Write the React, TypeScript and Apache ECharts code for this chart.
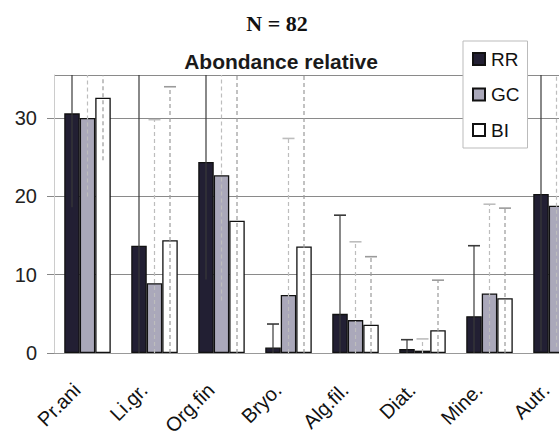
import React, { useEffect, useRef } from "react";
import * as echarts from "echarts";

const categories = ["Pr.ani", "Li.gr.", "Org.fin", "Bryo.", "Alg.fil.", "Diat.", "Mine.", "Autr."];
const seriesNames = ["RR", "GC", "BI"];
const rrValues = [30.6, 13.7, 24.4, 0.7, 5.0, 0.5, 4.7, 20.3];
const gcValues = [30.0, 8.9, 22.7, 7.4, 4.2, 0.3, 7.6, 18.8];
const biValues = [32.6, 14.4, 16.9, 13.6, 3.6, 2.9, 7.0, 17.5];
// upper error (standard deviation) — values above the axis top are clipped in the picture
const rrErrors = [12.0, 25.0, 15.0, 3.0, 12.6, 1.2, 9.0, 20.0];
const gcErrors = [10.0, 20.9, 16.0, 20.0, 10.0, 1.5, 11.4, 18.0];
const biErrors = [8.0, 19.6, 20.0, 24.0, 8.7, 6.4, 11.5, 18.0];
const yTicks = [0, 10, 20, 30];

const Y_MAX = 35.5;
const BAR_W = 15.5;
const FONT = "'Liberation Sans', Arial, sans-serif";

function errorSeries(values: number[], errors: number[], slot: number, color: string, dashed: boolean) {
  return {
    type: "custom",
    silent: true,
    z: 3,
    renderItem: (params: any, api: any) => {
      const i = api.value(0);
      const v = api.value(1);
      const e = api.value(2);
      const hi = Math.min(v + e, Y_MAX);
      const lo = Math.max(v - e, 0);
      const pHi = api.coord([i, hi]);
      const pLo = api.coord([i, lo]);
      const x = pHi[0] + (slot - 1) * BAR_W;
      const style = { stroke: color, lineWidth: 1.2, lineDash: dashed ? [4, 3] : null };
      const children: any[] = [
        { type: "line", shape: { x1: x, y1: pLo[1], x2: x, y2: pHi[1] }, style },
      ];
      if (v + e <= Y_MAX) {
        children.push({ type: "line", shape: { x1: x - 6, y1: pHi[1], x2: x + 6, y2: pHi[1] }, style: { stroke: color, lineWidth: 1.6 } });
      }
      return { type: "group", children };
    },
    data: categories.map((_, i) => [i, values[i], errors[i]]),
  };
}

export default function App() {
  const ref = useRef<HTMLDivElement>(null);
  useEffect(() => {
    if (!ref.current) return;
    const chart = echarts.init(ref.current, null, { renderer: "svg" });
    const barStyle = (color: string) => ({ color, borderColor: "#111", borderWidth: 1.3 });
    chart.setOption({
      animation: false,
      backgroundColor: "#fff",
      textStyle: { fontFamily: FONT },
      grid: { left: 54, right: 0, top: 75, bottom: 83, containLabel: false, outerBoundsMode: "none" },
      graphic: [
        { type: "text", x: 277, y: 23, style: { text: "N = 82", font: "bold 22px 'Liberation Serif', 'Times New Roman', serif", fill: "#111", align: "center", verticalAlign: "middle" } },
        { type: "text", x: 281, y: 61, style: { text: "Abondance relative", font: `bold 21px ${FONT}`, fill: "#1a1a1a", align: "center", verticalAlign: "middle" } },
      ],
      legend: {
        data: seriesNames,
        orient: "vertical",
        left: 463,
        top: 41,
        padding: [8, 8, 8, 9],
        itemWidth: 12,
        itemHeight: 12,
        itemGap: 15.5,
        backgroundColor: "#fff",
        borderColor: "#bbb",
        borderWidth: 1,
        icon: "rect",
        textStyle: { fontSize: 19, color: "#111", fontFamily: FONT, lineHeight: 20, padding: [0, 0, 0, 1] },
      },
      xAxis: {
        type: "category",
        data: categories,
        axisLine: { lineStyle: { color: "#999" } },
        axisTick: { show: false },
        axisLabel: { interval: 0, rotate: 45, fontSize: 20, color: "#111", margin: 23, padding: [0, 15, 0, 0], fontFamily: FONT },
      },
      yAxis: {
        type: "value",
        min: 0,
        max: Y_MAX,
        interval: 10,
        axisLine: { show: true, lineStyle: { color: "#ccc" } },
        axisTick: { show: true, length: 7, lineStyle: { color: "#888" } },
        axisLabel: {
          fontSize: 20,
          color: "#222",
          margin: 17,
          fontFamily: FONT,
          showMaxLabel: false,
          formatter: (v: number) => (yTicks.includes(v) ? String(v) : ""),
        },
        splitLine: { lineStyle: { color: "#8a8a8a", width: 1 } },
      },
      series: [
        { name: "RR", type: "bar", data: rrValues, barWidth: BAR_W, barGap: "0%", itemStyle: barStyle("#221f33") },
        { name: "GC", type: "bar", data: gcValues, barWidth: BAR_W, barGap: "0%", itemStyle: barStyle("#aaa8ba") },
        { name: "BI", type: "bar", data: biValues, barWidth: BAR_W, barGap: "0%", itemStyle: barStyle("#ffffff") },
        errorSeries(rrValues, rrErrors, 0, "#3a3a3a", false),
        errorSeries(gcValues, gcErrors, 1, "#bdbdbd", true),
        errorSeries(biValues, biErrors, 2, "#9a9a9a", true),
      ],
    });
    return () => chart.dispose();
  }, []);
  return <div ref={ref} style={{ position: "fixed", left: 0, top: 0, width: 590, height: 436 }} />;
}
